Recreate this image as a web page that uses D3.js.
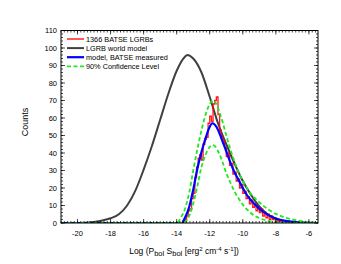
<!DOCTYPE html>
<html>
<head>
<meta charset="utf-8">
<script src="https://cdn.jsdelivr.net/npm/d3@7"></script>
<style>
  html, body { margin: 0; padding: 0; background: #fff; }
  svg { display: block; font-family: "Liberation Sans", Arial, Helvetica, sans-serif; }
</style>
</head>
<body>
<div id="chart"></div>
<script>
// LGRB world model (black)
const worldX = [-21, -20, -19.5, -19, -18.5, -18, -17.5, -17, -16.5, -16, -15.5, -15, -14.5, -14, -13.5, -13.36, -13, -12.5, -12, -11.5, -11, -10.5, -10, -9.5, -9, -8.5, -8, -7.5, -7, -6.5, -5.45];
const worldY = [0, 0, 0.2, 0.6, 1.4, 2.7, 5, 10, 18.5, 30.5, 44, 59, 74, 87, 95, 96, 94, 86, 72, 57, 45, 34, 24, 16, 9.5, 5, 2.5, 1.1, 0.4, 0.1, 0];

// model, BATSE measured (blue)
const modelX = [-21, -13.7, -13.5, -13.25, -13, -12.75, -12.5, -12.25, -12, -11.84, -11.6, -11.4, -11.2, -11, -10.75, -10.5, -10.25, -10, -9.75, -9.5, -9.25, -9, -8.75, -8.5, -8.25, -8, -7.5, -7, -6.5, -5.45];
const modelY = [0, 0, 3, 9, 19, 31, 40.5, 48.5, 55, 57, 55, 51, 46, 41, 34.5, 29, 24.5, 20, 16, 13, 10.5, 8.2, 6.3, 4.8, 3.6, 2.6, 1.4, 0.7, 0.2, 0];

// 90% confidence level, upper and lower (green dashed)
const upperX = [-21, -14.0, -13.75, -13.5, -13.25, -13, -12.75, -12.5, -12.25, -12, -11.8, -11.6, -11.4, -11.2, -11, -10.75, -10.5, -10.25, -10, -9.75, -9.5, -9.25, -9, -8.75, -8.5, -8.25, -8, -7.5, -7, -6.5, -6, -5.45];
const upperY = [0, 0, 3, 8, 17, 30, 42, 53, 62, 68, 70, 68, 63, 57, 50, 42, 35, 29, 24, 20, 16.5, 14, 11.8, 9.8, 8, 6.5, 5.2, 3.3, 2, 1.1, 0.5, 0.2];
const lowerX = [-21, -13.6, -13.4, -13.2, -13, -12.75, -12.5, -12.25, -12, -11.85, -11.7, -11.5, -11.25, -11, -10.75, -10.5, -10.25, -10, -9.75, -9.5, -9.25, -9, -8.5, -8, -7.5, -7, -5.45];
const lowerY = [0, 0, 1.5, 5, 11, 21, 32, 39, 43.5, 44.5, 44, 41, 35.5, 28.5, 23, 18, 14, 10.5, 7.8, 5.6, 4, 2.8, 1.3, 0.5, 0.15, 0, 0];

// 1366 BATSE LGRBs histogram (red), bins of 0.1 starting at -13.7
const histStart = -13.7;
const histWidth = 0.1;
const histCounts = [0, 1, 2, 4, 7, 8, 14, 17, 26, 32, 37, 39, 36, 45, 48, 49, 57, 61, 58, 68,
                    70, 72, 62, 53, 49, 47, 43, 38, 40, 33, 34, 28, 29, 24, 25, 20, 22, 17, 18, 14,
                    15, 11, 13, 9, 11, 7, 9, 6, 8, 4, 6, 3, 5, 2, 4, 2, 3, 1, 2, 1, 1, 0];

const xTicks = [-20, -18, -16, -14, -12, -10, -8, -6];
const yTicks = [0, 10, 20, 30, 40, 50, 60, 70, 80, 90, 100, 110];

const legendItems = [
  { label: '1366 BATSE LGRBs', color: '#ff0000', width: 1.3, dash: null },
  { label: 'LGRB world model', color: '#404040', width: 2, dash: null },
  { label: 'model, BATSE measured', color: '#0000ff', width: 2.2, dash: null },
  { label: '90% Confidence Level', color: '#22e622', width: 1.8, dash: '4,2.5' }
];

const W = 341, H = 264;
const L = 61, R = 318, T = 30.5, B = 223;

const svg = d3.select('#chart').append('svg')
  .attr('width', W).attr('height', H);

const x = d3.scaleLinear().domain([-21, -5.45]).range([L, R]);
const y = d3.scaleLinear().domain([0, 110]).range([B, T]);

// clip to plot box
svg.append('defs').append('clipPath').attr('id', 'clip')
  .append('rect').attr('x', L).attr('y', T).attr('width', R - L).attr('height', B - T);

const plot = svg.append('g').attr('clip-path', 'url(#clip)');

const line = d3.line().x(d => x(d[0])).y(d => y(d[1])).curve(d3.curveMonotoneX);

// world model
plot.append('path')
  .attr('d', line(d3.zip(worldX, worldY)))
  .attr('fill', 'none').attr('stroke', '#404040').attr('stroke-width', 2);

// histogram as steps
const histPts = [];
histCounts.forEach((c, i) => {
  const x0 = histStart + i * histWidth;
  histPts.push([x0, c], [x0 + histWidth, c]);
});
plot.append('path')
  .attr('d', d3.line().x(d => x(d[0])).y(d => y(d[1]))(histPts))
  .attr('fill', 'none').attr('stroke', '#ff0000').attr('stroke-width', 1.3)
  .attr('stroke-opacity', 0.9);

// model measured
plot.append('path')
  .attr('d', line(d3.zip(modelX, modelY)))
  .attr('fill', 'none').attr('stroke', '#0000ff').attr('stroke-width', 2.2);

// confidence levels
[[upperX, upperY], [lowerX, lowerY]].forEach(([cx, cy]) => {
  plot.append('path')
    .attr('d', line(d3.zip(cx, cy)))
    .attr('fill', 'none').attr('stroke', '#22e622').attr('stroke-width', 1.8)
    .attr('stroke-dasharray', '4,2.5');
});

// frame
svg.append('rect')
  .attr('x', L).attr('y', T).attr('width', R - L).attr('height', B - T)
  .attr('fill', 'none').attr('stroke', '#000').attr('stroke-width', 1);

// axes with inward ticks
const xMinor = d3.range(-21, -5.4, 0.2);
const yMinor = d3.range(0, 111, 2);

const tk = svg.append('g').attr('stroke', '#000').attr('stroke-width', 0.7);
xMinor.forEach(v => {
  tk.append('line').attr('x1', x(v)).attr('x2', x(v)).attr('y1', B).attr('y2', B - 2);
  tk.append('line').attr('x1', x(v)).attr('x2', x(v)).attr('y1', T).attr('y2', T + 2);
});
xTicks.forEach(v => {
  tk.append('line').attr('x1', x(v)).attr('x2', x(v)).attr('y1', B).attr('y2', B - 4);
  tk.append('line').attr('x1', x(v)).attr('x2', x(v)).attr('y1', T).attr('y2', T + 4);
});
yMinor.forEach(v => {
  tk.append('line').attr('x1', L).attr('x2', L + 2).attr('y1', y(v)).attr('y2', y(v));
  tk.append('line').attr('x1', R).attr('x2', R - 2).attr('y1', y(v)).attr('y2', y(v));
});
yTicks.forEach(v => {
  tk.append('line').attr('x1', L).attr('x2', L + 4).attr('y1', y(v)).attr('y2', y(v));
  tk.append('line').attr('x1', R).attr('x2', R - 4).attr('y1', y(v)).attr('y2', y(v));
});

// tick labels
svg.append('g').selectAll('text').data(xTicks).enter().append('text')
  .attr('x', d => x(d)).attr('y', 236)
  .attr('text-anchor', 'middle').attr('font-size', 7.5)
  .text(d => d);

svg.append('g').selectAll('text').data(yTicks).enter().append('text')
  .attr('x', 57).attr('y', d => y(d) + 2.7)
  .attr('text-anchor', 'end').attr('font-size', 7.5)
  .text(d => d);

// axis titles
svg.append('text')
  .attr('transform', 'translate(28,122) rotate(-90)')
  .attr('text-anchor', 'middle').attr('font-size', 9)
  .text('Counts');

const xt = svg.append('text')
  .attr('x', 184).attr('y', 254)
  .attr('text-anchor', 'middle').attr('font-size', 8.5);
xt.append('tspan').text('Log (P');
xt.append('tspan').attr('font-size', 7.5).attr('dy', 2).text('bol');
xt.append('tspan').attr('dy', -2).text(' S');
xt.append('tspan').attr('font-size', 7.5).attr('dy', 2).text('bol');
xt.append('tspan').attr('dy', -2).text('  [erg');
xt.append('tspan').attr('font-size', 6).attr('dy', -3).text('2');
xt.append('tspan').attr('dy', 3).text(' cm');
xt.append('tspan').attr('font-size', 6).attr('dy', -3).text('-4');
xt.append('tspan').attr('dy', 3).text(' s');
xt.append('tspan').attr('font-size', 6).attr('dy', -3).text('-1');
xt.append('tspan').attr('dy', 3).text('])');

// legend
const lg = svg.append('g');
legendItems.forEach((d, i) => {
  const ly = 39 + i * 9.1;
  lg.append('line')
    .attr('x1', 67).attr('x2', 84).attr('y1', ly).attr('y2', ly)
    .attr('stroke', d.color).attr('stroke-width', d.width)
    .attr('stroke-dasharray', d.dash);
  lg.append('text')
    .attr('x', 86).attr('y', ly + 2.5)
    .attr('font-size', 7.3).text(d.label);
});
</script>
</body>
</html>
